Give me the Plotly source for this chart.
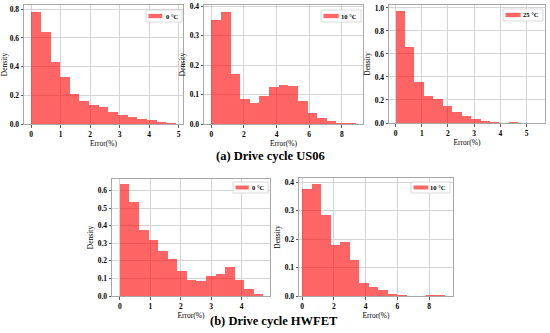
import numpy as np
import plotly.graph_objects as go

W, H = 550, 333

# ---------------- data (histogram densities, 15 equal bins from 0 to max error) -------------
panel_labels = ["0 °C", "10 °C", "25 °C", "0 °C", "10 °C"]
max_error = [4.9, 8.85, 5.4, 4.71, 9.0]

us06_0c = [0.78, 0.64, 0.435, 0.325, 0.21, 0.16, 0.135, 0.12, 0.085, 0.06, 0.05, 0.035, 0.025, 0.015, 0.008]
us06_10c = [0.354, 0.382, 0.17, 0.084, 0.07, 0.096, 0.125, 0.133, 0.13, 0.078, 0.036, 0.021, 0.01, 0.005, 0.003]
us06_25c = [0.974, 0.664, 0.358, 0.237, 0.206, 0.148, 0.097, 0.06, 0.035, 0.02, 0.01, 0.0, 0.01, 0.0, 0.003]
hwfet_0c = [0.635, 0.532, 0.377, 0.32, 0.256, 0.208, 0.142, 0.091, 0.085, 0.112, 0.127, 0.167, 0.089, 0.038, 0.01]
hwfet_10c = [0.376, 0.394, 0.286, 0.179, 0.19, 0.126, 0.047, 0.03, 0.022, 0.006, 0.003, 0.0, 0.0, 0.004, 0.004]

series = [us06_0c, us06_10c, us06_25c, hwfet_0c, hwfet_10c]

captions = ["(a) Drive cycle US06", "(b) Drive cycle HWFET"]
x_title = "Error(%)"
y_title = "Density"

# ---------------- layout geometry (pixels) ----------------
frames = [
    (24, 183, 5, 124),
    (204, 363, 5, 124),
    (389, 545, 5, 123),
    (112, 270, 179, 296),
    (299, 453, 178, 296),
]
x_ranges = [[-0.245, 5.145], [-0.45, 9.3], [-0.25, 5.7], [-0.26, 4.93], [-0.2, 9.5]]
y_ranges = [[0, 0.83], [0, 0.405], [0, 1.025], [0, 0.665], [0, 0.415]]
x_dticks = [1, 2, 1, 1, 2]
y_dticks = [0.2, 0.1, 0.2, 0.1, 0.1]
legend_boxes = [
    (146, 182, 10, 22),
    (321, 361, 10, 22),
    (503, 543, 9, 21),
    (233, 268, 182, 193),
    (411, 450, 182, 193),
]

def px(x):
    return x / W

def py(y):
    return 1 - y / H

SERIF = "Liberation Serif"
BAR_COLOR = "red"
GRID = "#d4d4d4"
FRAME = "#a8a8a8"

fig = go.Figure()
shapes = []
annotations = []

for i, vals in enumerate(series):
    n = len(vals)
    edges = np.linspace(0, max_error[i], n + 1)
    centers = (edges[:-1] + edges[1:]) / 2
    width = edges[1] - edges[0]
    ax = "" if i == 0 else str(i + 1)
    fig.add_trace(go.Bar(
        x=centers, y=vals, width=width,
        marker=dict(color=BAR_COLOR, line=dict(width=0)),
        opacity=0.6, name=panel_labels[i], showlegend=False,
        xaxis="x" + ax, yaxis="y" + ax,
    ))
    x0, x1, y0, y1 = frames[i]
    tickfont = dict(family=SERIF, size=7.5, color="black", weight="bold")
    titlefont = dict(family=SERIF, size=7.5, color="black")
    fig.layout["xaxis" + ax] = dict(
        domain=[px(x0), px(x1)], anchor="y" + ax, range=x_ranges[i],
        dtick=x_dticks[i], tick0=0, showgrid=True, gridcolor=GRID, gridwidth=1,
        zeroline=False, showline=True, linecolor=FRAME, linewidth=1, mirror=True,
        ticks="outside", ticklen=2.5, tickcolor="#333", tickwidth=0.8,
        tickfont=tickfont, title=dict(text=x_title, font=titlefont, standoff=2),
        automargin=False, fixedrange=True,
    )
    fig.layout["yaxis" + ax] = dict(
        domain=[py(y1), py(y0)], anchor="x" + ax, range=y_ranges[i],
        dtick=y_dticks[i], tick0=0, tickformat=".1f", showgrid=True, gridcolor=GRID,
        gridwidth=1, zeroline=False, showline=True, linecolor=FRAME, linewidth=1,
        mirror=True, ticks="outside", ticklen=2.5, tickcolor="#333", tickwidth=0.8,
        tickfont=tickfont, title=dict(text=y_title, font=titlefont, standoff=3),
        automargin=False, fixedrange=True,
    )
    # legend box drawn like matplotlib legend
    lx0, lx1, ly0, ly1 = legend_boxes[i]
    shapes.append(dict(type="rect", xref="paper", yref="paper",
                       x0=px(lx0), x1=px(lx1), y0=py(ly1), y1=py(ly0),
                       line=dict(color="#d0d0d0", width=0.8), fillcolor="white", layer="above"))
    ph = (ly1 - ly0)
    patch_w = 0.38 * (lx1 - lx0)
    shapes.append(dict(type="rect", xref="paper", yref="paper",
                       x0=px(lx0 + 2.5), x1=px(lx0 + 2.5 + patch_w),
                       y0=py(ly0 + ph * 0.68), y1=py(ly0 + ph * 0.32),
                       line=dict(width=0), fillcolor="rgba(255,0,0,0.6)", layer="above"))
    annotations.append(dict(text=panel_labels[i], xref="paper", yref="paper",
                            x=px(lx1 - 2), y=py((ly0 + ly1) / 2),
                            xanchor="right", yanchor="middle", showarrow=False,
                            font=dict(family=SERIF, size=6.5, color="black", weight="bold")))

annotations.append(dict(text=captions[0], xref="paper", yref="paper", x=px(270), y=py(156),
                        xanchor="center", yanchor="middle", showarrow=False,
                        font=dict(family=SERIF, size=12.5, color="black", weight="bold")))
annotations.append(dict(text=captions[1], xref="paper", yref="paper", x=px(274), y=py(321),
                        xanchor="center", yanchor="middle", showarrow=False,
                        font=dict(family=SERIF, size=12.5, color="black", weight="bold")))

fig.update_layout(
    width=W, height=H, margin=dict(l=0, r=0, t=0, b=0),
    paper_bgcolor="white", plot_bgcolor="white",
    bargap=0, showlegend=False, shapes=shapes, annotations=annotations,
)

fig.write_html("out.html",
               config={"displayModeBar": False, "staticPlot": True},
               post_script="document.body.style.margin='0';document.body.style.overflow='hidden';")
